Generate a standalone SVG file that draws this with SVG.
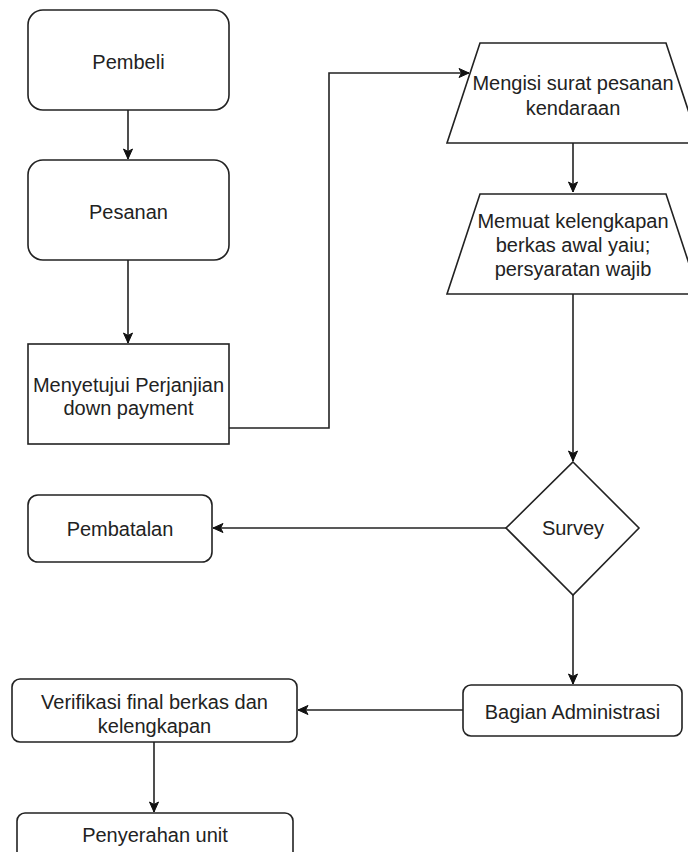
<svg xmlns="http://www.w3.org/2000/svg" width="688" height="852" viewBox="0 0 688 852">
<style>
.n{fill:#fff;stroke:#222;stroke-width:1.6}
.t{font-family:"Liberation Sans",Arial,sans-serif;font-size:20px;fill:#222;text-anchor:middle}
.c{fill:none;stroke:#222;stroke-width:1.6;marker-end:url(#ah)}
</style>
<defs>
<marker id="ah" markerUnits="userSpaceOnUse" markerWidth="12" markerHeight="12" viewBox="0 0 12 12" refX="11" refY="6" orient="auto">
<path d="M1,1.5 L11,6 L1,10.5 L3.5,6 Z" fill="#111" stroke="#111" stroke-width="1"/>
</marker>
</defs>
<rect width="688" height="852" fill="#fff"/>
<g id="connectors">
<path class="c" d="M128,110 V159"/>
<path class="c" d="M128,260 V343"/>
<path class="c" d="M229,428 H329 V73 H469"/>
<path class="c" d="M573,143 V192"/>
<path class="c" d="M573,294 V461"/>
<path class="c" d="M506,528 H213"/>
<path class="c" d="M573,595 V684"/>
<path class="c" d="M463,710 H298"/>
<path class="c" d="M154,742 V812"/>
</g>
<g id="pembeli">
<rect class="n" x="28" y="10" width="201" height="100" rx="15"/>
<text class="t" x="128.5" y="69">Pembeli</text>
</g>
<g id="pesanan">
<rect class="n" x="28" y="160" width="201" height="100" rx="15"/>
<text class="t" x="128.5" y="219">Pesanan</text>
</g>
<g id="menyetujui">
<rect class="n" x="28" y="344" width="201" height="100"/>
<text class="t" x="128.5" y="392">Menyetujui Perjanjian</text>
<text class="t" x="128.5" y="415">down payment</text>
</g>
<g id="mengisi">
<path class="n" d="M480,43 H666 L699,143 H447 Z"/>
<text class="t" x="573" y="90">Mengisi surat pesanan</text>
<text class="t" x="573" y="115">kendaraan</text>
</g>
<g id="memuat">
<path class="n" d="M480,194 H666 L699,294 H447 Z"/>
<text class="t" x="573" y="228">Memuat kelengkapan</text>
<text class="t" x="573" y="252">berkas awal yaiu;</text>
<text class="t" x="573" y="276">persyaratan wajib</text>
</g>
<g id="survey">
<path class="n" d="M573,462 L639,528 L573,595 L506,528 Z"/>
<text class="t" x="573" y="535">Survey</text>
</g>
<g id="pembatalan">
<rect class="n" x="28" y="495" width="184" height="67" rx="10"/>
<text class="t" x="120" y="536">Pembatalan</text>
</g>
<g id="bagian">
<rect class="n" x="463" y="685" width="219" height="51" rx="8"/>
<text class="t" x="572.5" y="719">Bagian Administrasi</text>
</g>
<g id="verifikasi">
<rect class="n" x="12" y="679" width="285" height="63" rx="8"/>
<text class="t" x="154.5" y="709">Verifikasi final berkas dan</text>
<text class="t" x="154.5" y="733">kelengkapan</text>
</g>
<g id="penyerahan">
<rect class="n" x="17" y="813" width="276" height="60" rx="8"/>
<text class="t" x="155" y="842">Penyerahan unit</text>
</g>
</svg>
